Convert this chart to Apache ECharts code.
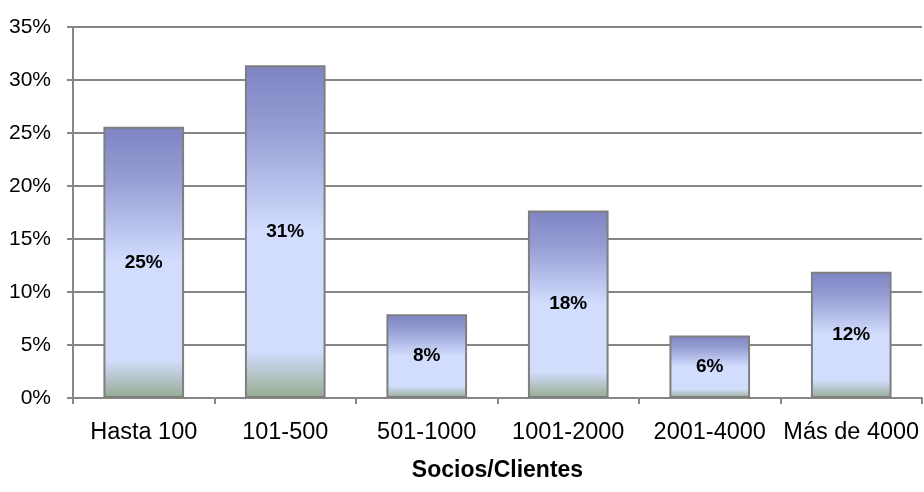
<!DOCTYPE html>
<html>
<head>
<meta charset="utf-8">
<script src="https://cdn.jsdelivr.net/npm/echarts@6/dist/echarts.min.js"></script>
<style>html,body{margin:0;padding:0;background:#fff}#c{width:924px;height:492px}</style>
</head>
<body>
<div id="c"></div>
<script>
const categories = ['Hasta 100', '101-500', '501-1000', '1001-2000', '2001-4000', 'Más de 4000'];
const values = [25.6, 31.4, 7.9, 17.7, 5.9, 11.9];
const labels = ['25%', '31%', '8%', '18%', '6%', '12%'];
const yTicks = [0, 5, 10, 15, 20, 25, 30, 35];
const axisTitle = 'Socios/Clientes';

const FONT = '"Liberation Sans", Arial, sans-serif';
const chart = echarts.init(document.getElementById('c'));
chart.setOption({
  animation: false,
  grid: { left: 73, right: 2, top: 27, bottom: 94 },
  xAxis: {
    type: 'category',
    data: categories,
    name: axisTitle,
    nameLocation: 'middle',
    nameGap: 61,
    nameTextStyle: { fontFamily: FONT, fontSize: 23, fontWeight: 'bold', color: '#000' },
    axisLine: { lineStyle: { color: '#868686', width: 2 } },
    axisTick: { show: true, interval: 0, alignWithLabel: false, length: 6, lineStyle: { color: '#868686', width: 2 } },
    axisLabel: { interval: 0, fontFamily: FONT, fontSize: 23.5, color: '#000', margin: 23 }
  },
  yAxis: {
    type: 'value',
    min: 0, max: 35, interval: 5,
    axisLine: { show: true, lineStyle: { color: '#868686', width: 2 } },
    axisTick: { show: true, inside: false, length: 6, lineStyle: { color: '#868686', width: 2 } },
    axisLabel: { fontFamily: FONT, fontSize: 21, color: '#000', margin: 22, formatter: v => yTicks.includes(v) ? v + '%' : '' },
    splitLine: { lineStyle: { color: '#868686', width: 2 } }
  },
  series: [{
    type: 'bar',
    data: values,
    barWidth: '57%',
    itemStyle: {
      borderColor: '#7f7f7f',
      borderWidth: 2,
      color: {
        type: 'linear', x: 0, y: 0, x2: 0, y2: 1,
        colorStops: [
          { offset: 0, color: '#7d84c2' },
          { offset: 0.2, color: '#989fd5' },
          { offset: 0.5, color: '#d2ddfe' },
          { offset: 0.86, color: '#d2ddfc' },
          { offset: 1, color: '#97ab92' }
        ]
      }
    },
    label: {
      show: true,
      position: 'inside',
      fontFamily: FONT,
      fontSize: 19,
      fontWeight: 'bold',
      color: '#000',
      formatter: p => labels[p.dataIndex]
    }
  }]
});
</script>
</body>
</html>
